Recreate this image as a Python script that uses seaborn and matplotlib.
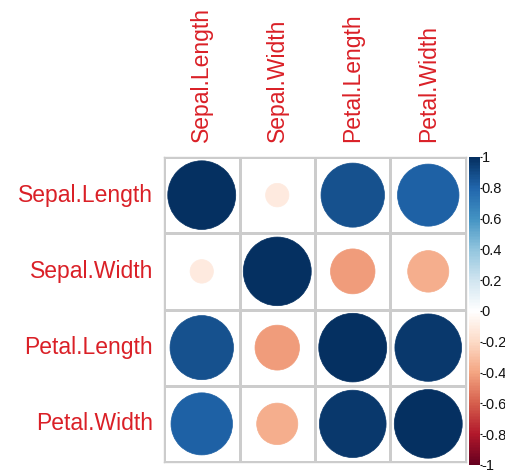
import numpy as np
import pandas as pd
import matplotlib
matplotlib.use("Agg")
import matplotlib.pyplot as plt
from matplotlib.colors import LinearSegmentedColormap, ListedColormap, Normalize
from matplotlib.cm import ScalarMappable
from matplotlib.patches import Circle
import seaborn as sns

# Iris measurement variables and their pairwise Pearson correlations
variables = ["Sepal.Length", "Sepal.Width", "Petal.Length", "Petal.Width"]
sepal_length = [1.0000, -0.1176, 0.8718, 0.8179]
sepal_width = [-0.1176, 1.0000, -0.4284, -0.3661]
petal_length = [0.8718, -0.4284, 1.0000, 0.9629]
petal_width = [0.8179, -0.3661, 0.9629, 1.0000]
colorbar_ticks = [1, 0.8, 0.6, 0.4, 0.2, 0, -0.2, -0.4, -0.6, -0.8, -1]

corr = pd.DataFrame([sepal_length, sepal_width, petal_length, petal_width],
                    index=variables, columns=variables)

sns.set_theme(style="white")
plt.rcParams["font.family"] = ["Liberation Sans", "DejaVu Sans"]
plt.rcParams["axes.unicode_minus"] = False

label_red = "#DA2027"
grid_gray = "#CCCCCC"

# diverging red-blue palette, 11 anchors from -1 to 1
rdbu = LinearSegmentedColormap.from_list(
    "corr_rdbu",
    ["#67001F", "#B2182B", "#D6604D", "#F4A582", "#FDDBC7", "#FFFFFF",
     "#D1E5F0", "#92C5DE", "#4393C3", "#2166AC", "#053061"], N=200)
norm = Normalize(vmin=-1, vmax=1)

W, H = 506, 472
fig = plt.figure(figsize=(W / 100, H / 100), dpi=100)
ax = fig.add_axes([164 / W, 1 - 462 / H, 302 / W, 305 / H])

# white cells with gray grid lines
sns.heatmap(np.zeros(corr.shape), ax=ax, cmap=ListedColormap(["white"]),
            cbar=False, linewidths=1.0, linecolor=grid_gray,
            xticklabels=variables, yticklabels=variables, square=False)
for side in ["left", "right", "top", "bottom"]:
    ax.spines[side].set_visible(True)
    ax.spines[side].set_color(grid_gray)
    ax.spines[side].set_linewidth(1.0)

# circles: area proportional to |r|, colour by r
n = len(variables)
for i in range(n):
    for j in range(n):
        r = corr.iloc[i, j]
        rad = 0.45 * np.sqrt(abs(r))
        col = rdbu(norm(r))
        ax.add_patch(Circle((j + 0.5, i + 0.5), rad, facecolor=col,
                            edgecolor=col, linewidth=0.5, zorder=3))

ax.xaxis.tick_top()
ax.set_xticklabels(variables, rotation=90, color=label_red, fontsize=16.5)
ax.set_yticklabels(variables, rotation=0, color=label_red, fontsize=16.5)
ax.tick_params(axis="x", length=0, pad=11)
ax.tick_params(axis="y", length=0, pad=8)
ax.set_xlabel("")
ax.set_ylabel("")

# colour legend
cax = fig.add_axes([469 / W, 1 - 465 / H, 11 / W, 308 / H])
sm = ScalarMappable(norm=norm, cmap=rdbu)
cb = fig.colorbar(sm, cax=cax, ticks=colorbar_ticks)
cb.ax.set_yticklabels([f"{t:g}" for t in colorbar_ticks], fontsize=10.5, color="#111111")
cb.ax.tick_params(length=1.5, width=0.8, pad=-0.5, direction="out", color="#111111")
cb.outline.set_visible(False)

fig.savefig("out.png", dpi=100, facecolor="white")
